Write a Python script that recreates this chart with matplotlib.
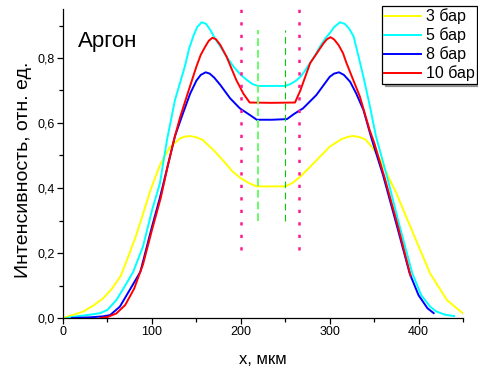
import matplotlib
matplotlib.use("Agg")
import matplotlib.pyplot as plt
from matplotlib.ticker import MultipleLocator, FuncFormatter

plt.rcParams['font.family'] = ['Liberation Sans', 'DejaVu Sans']

# curves
x_3bar = [0, 12, 23, 35, 45, 55, 65, 75, 83, 90, 98, 109, 120, 132, 137, 143, 150, 157, 170,
          180, 191, 200, 210, 218, 234, 250, 258, 267, 278, 289, 300, 313, 320, 326, 333,
          340, 348, 357, 375, 394, 413, 432, 450]
y_3bar = [0, 0.01, 0.02, 0.04, 0.06, 0.09, 0.13, 0.2, 0.26, 0.32, 0.39, 0.47, 0.525, 0.553,
          0.558, 0.56, 0.556, 0.548, 0.515, 0.485, 0.45, 0.43, 0.414, 0.405, 0.405, 0.405,
          0.415, 0.435, 0.465, 0.496, 0.527, 0.55, 0.557, 0.56, 0.557, 0.55, 0.525, 0.486,
          0.384, 0.26, 0.137, 0.055, 0.014]

x_5bar = [4, 15, 30, 42, 50, 60, 70, 79, 90, 100, 109, 117, 126, 137, 142, 147, 151, 156,
          161, 166, 171, 177, 185, 192, 200, 207, 213, 219, 235, 250, 256, 262, 267, 272,
          278, 284, 289, 295, 300, 305, 311.6, 317, 322, 327, 332, 338, 345, 352, 365, 378,
          393, 403, 413, 420, 430, 440]
y_5bar = [0, 0.005, 0.01, 0.015, 0.025, 0.055, 0.1, 0.142, 0.22, 0.33, 0.414, 0.548, 0.671,
          0.773, 0.83, 0.87, 0.895, 0.91, 0.905, 0.885, 0.86, 0.835, 0.8, 0.773, 0.748,
          0.732, 0.72, 0.714, 0.714, 0.714, 0.72, 0.73, 0.742, 0.76, 0.785, 0.81, 0.835,
          0.86, 0.876, 0.895, 0.91, 0.905, 0.89, 0.866, 0.81, 0.742, 0.655, 0.56, 0.43,
          0.29, 0.137, 0.07, 0.035, 0.02, 0.01, 0.006]

x_8bar = [10, 30, 45, 53, 64, 75, 87, 100, 109, 118, 126, 135, 143, 150, 155, 160.5, 165,
          170, 177, 188, 199, 210, 218, 235, 252, 260, 270, 285, 300, 305, 310.5, 316, 323,
          330, 338, 347, 360, 375, 390, 400, 410, 417]
y_8bar = [0, 0.002, 0.005, 0.009, 0.035, 0.086, 0.142, 0.28, 0.37, 0.47, 0.56, 0.63, 0.69,
          0.73, 0.748, 0.756, 0.752, 0.74, 0.717, 0.676, 0.645, 0.625, 0.61, 0.61, 0.612,
          0.628, 0.645, 0.686, 0.742, 0.752, 0.756, 0.748, 0.727, 0.69, 0.64, 0.553, 0.44,
          0.29, 0.137, 0.07, 0.03, 0.015]

x_10bar = [42, 50, 60, 70, 80, 90, 100, 110, 118, 125, 132, 139, 150, 155, 160, 164, 168,
           172, 177, 184, 195, 203, 210, 235, 261, 267, 278, 293, 297, 301, 305, 310, 315,
           319, 334, 345, 350, 362, 377, 391]
y_10bar = [0, 0.003, 0.014, 0.04, 0.09, 0.165, 0.27, 0.37, 0.47, 0.55, 0.62, 0.68, 0.773,
           0.81, 0.835, 0.853, 0.862, 0.858, 0.84, 0.804, 0.732, 0.69, 0.663, 0.662, 0.663,
           0.70, 0.784, 0.845, 0.858, 0.864, 0.857, 0.84, 0.815, 0.784, 0.681, 0.578, 0.54,
           0.43, 0.28, 0.13]

labels = ['3 бар', '5 бар', '8 бар', '10 бар']
colors = ['#ffff00', '#00ffff', '#0000ff', '#ff0000']

# marker lines
pink_x = [200, 266]
pink_span = (0.21, 0.95)
green_x = [219, 250]
green_span = (0.30, 0.886)

fig = plt.figure(figsize=(4.78, 3.69), dpi=100)
ax = fig.add_axes([63 / 478, 1 - 318 / 369, 400 / 478, (318 - 9.25) / 369])

series = [(x_3bar, y_3bar), (x_5bar, y_5bar), (x_8bar, y_8bar), (x_10bar, y_10bar)]
for (xs, ys), lab, col in zip(series, labels, colors):
    ax.plot(xs, ys, color=col, lw=1.4, label=lab)

for xv in pink_x:
    ax.plot([xv, xv], pink_span, color='#ff1a8c', lw=1.8, linestyle=(0, (1.3, 3.7)))
ax.plot([green_x[0]] * 2, green_span, color='#66ff66', lw=1.4, linestyle=(0, (4, 2)))
ax.plot([green_x[1]] * 2, green_span, color='#00cc00', lw=0.8, linestyle=(0, (6, 4)))

ax.set_xlim(0, 450)
ax.set_ylim(0, 0.95)
ax.xaxis.set_major_locator(MultipleLocator(100))
ax.xaxis.set_minor_locator(MultipleLocator(50))
ax.yaxis.set_major_locator(MultipleLocator(0.2))
ax.yaxis.set_minor_locator(MultipleLocator(0.1))
ax.yaxis.set_major_formatter(FuncFormatter(lambda v, p: f"{v:.1f}".replace('.', ',')))
ax.tick_params(which='major', direction='out', length=4, width=0.9, labelsize=9, pad=2)
ax.tick_params(which='minor', direction='out', length=3, width=0.9)
for s in ['top', 'right']:
    ax.spines[s].set_visible(False)
for s in ['left', 'bottom']:
    ax.spines[s].set_linewidth(0.9)

ax.set_xlabel('x, мкм', fontsize=12, labelpad=10)
ax.set_ylabel('Интенсивность, отн. ед.', fontsize=14)
ax.yaxis.set_label_coords(-0.078, 0.48)

ax.text(17, 0.834, 'Аргон', fontsize=16, va='baseline', ha='left')

leg = ax.legend(loc='upper right', bbox_to_anchor=(477 / 478, 1 - 6 / 369),
                bbox_transform=fig.transFigure, borderaxespad=0, fontsize=11.5,
                frameon=True, fancybox=False, shadow=True, handlelength=2.3,
                handletextpad=0.3, labelspacing=0.2, borderpad=0.15)
leg.get_frame().set_edgecolor('black')
leg.get_frame().set_linewidth(0.9)

fig.savefig('out.png', dpi=100)
